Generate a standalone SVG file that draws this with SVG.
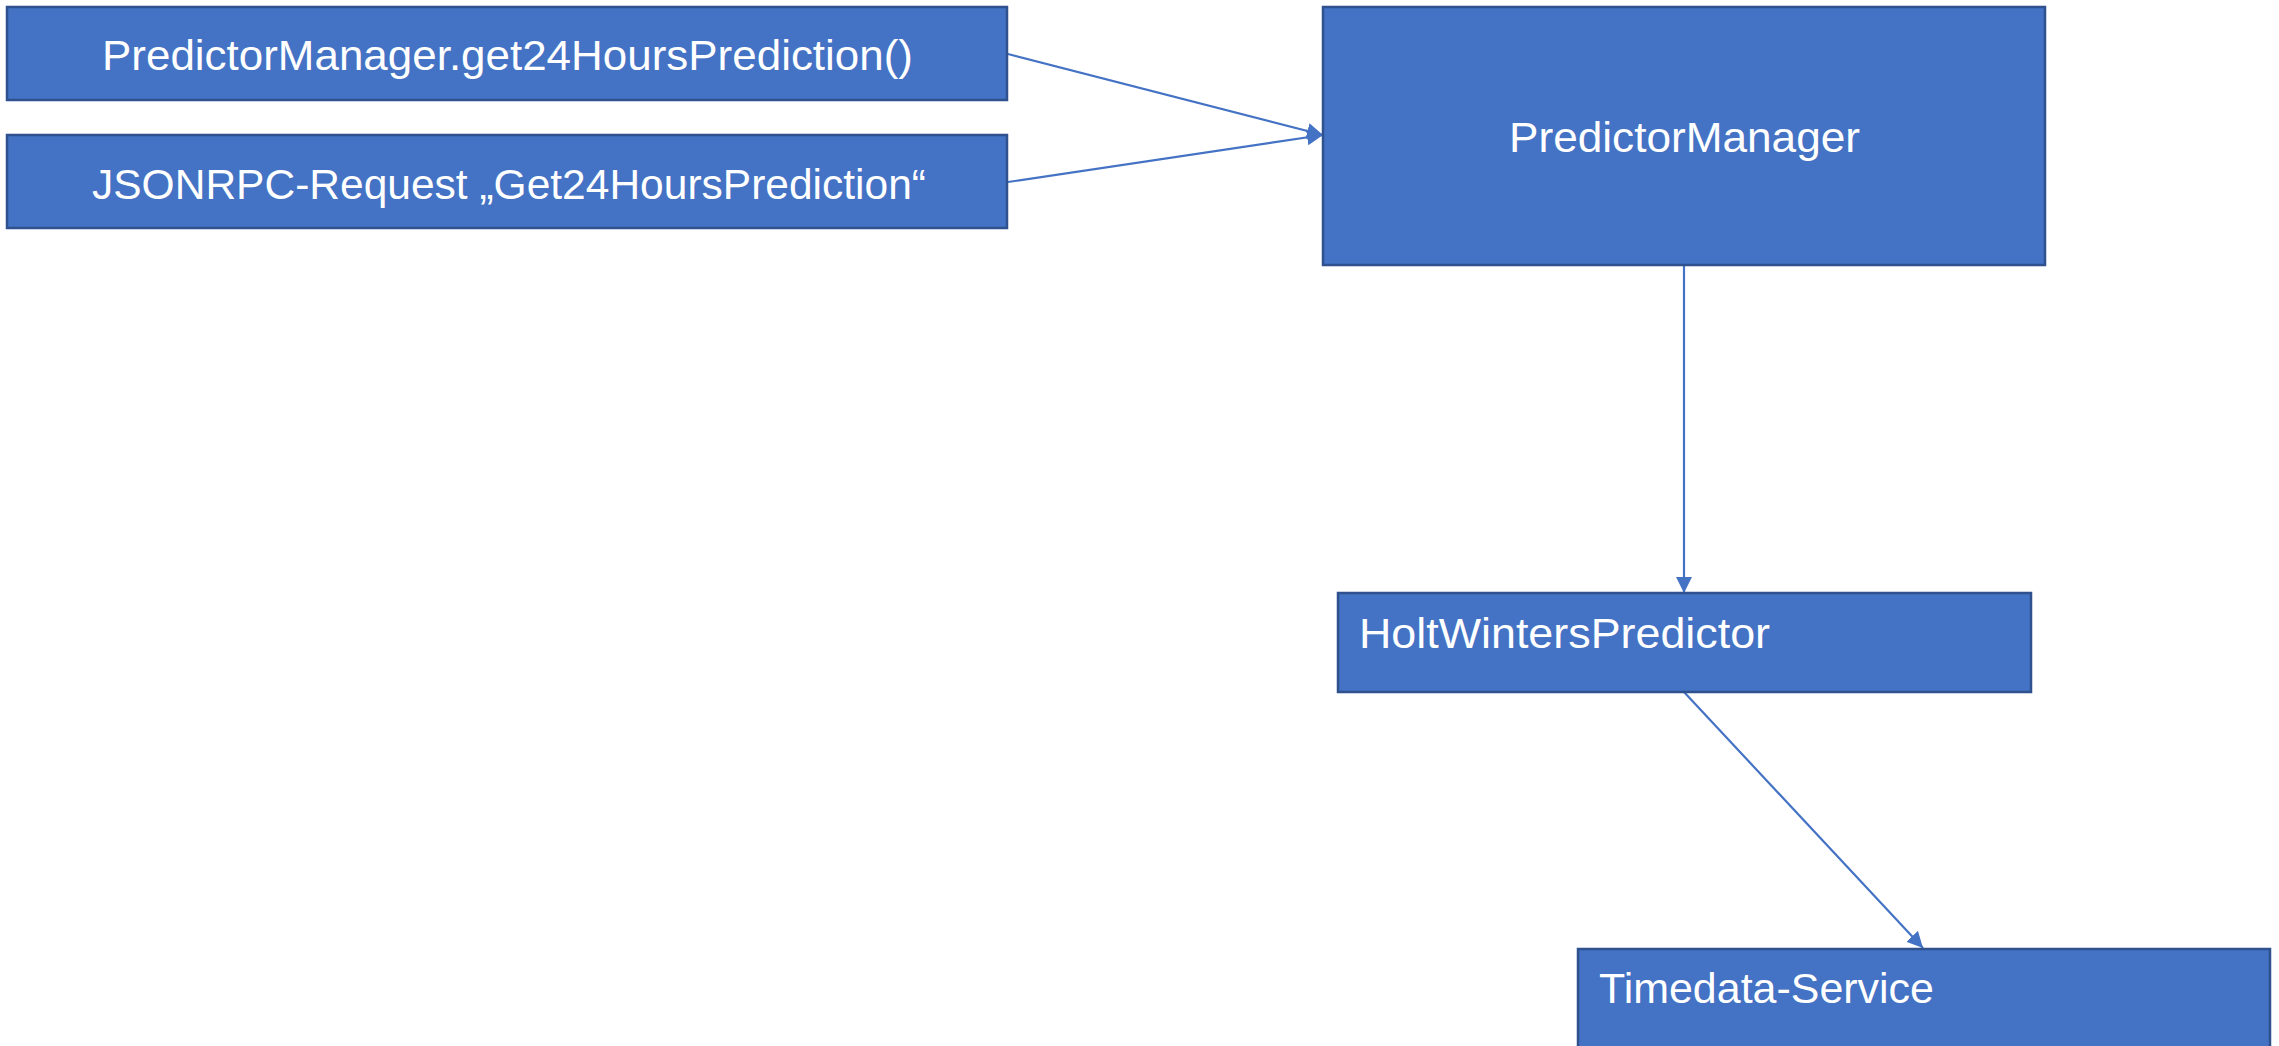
<svg xmlns="http://www.w3.org/2000/svg" width="2279" height="1046" viewBox="0 0 2279 1046">
<defs>
<style>
.box{fill:#4472C4;stroke:#2F528F;stroke-width:2.5}
.lbl{fill:#FFFFFF;font-family:"Liberation Sans",Arial,sans-serif;font-size:42px}
.conn{stroke:#4472C4;stroke-width:2.2;fill:none}
</style>
<marker id="ah" markerUnits="userSpaceOnUse" markerWidth="18" markerHeight="18" refX="16" refY="8" orient="auto">
<path d="M0,0 L16,8 L0,16 z" fill="#4472C4"/>
</marker>
</defs>
<rect width="2279" height="1046" fill="#FFFFFF"/>
<g id="connectors">
<line class="conn" x1="1008" y1="54" x2="1323" y2="135" marker-end="url(#ah)"/>
<line class="conn" x1="1008" y1="182" x2="1323" y2="135" marker-end="url(#ah)"/>
<line class="conn" x1="1684" y1="265" x2="1684" y2="593" marker-end="url(#ah)"/>
<line class="conn" x1="1684" y1="692" x2="1923" y2="948" marker-end="url(#ah)"/>
</g>
<g id="node-call">
<rect class="box" x="7" y="7" width="1000" height="93"/>
<text class="lbl" x="102" y="70" textLength="811" lengthAdjust="spacingAndGlyphs">PredictorManager.get24HoursPrediction()</text>
</g>
<g id="node-jsonrpc">
<rect class="box" x="7" y="135" width="1000" height="93"/>
<text class="lbl" x="92" y="199" textLength="834" lengthAdjust="spacingAndGlyphs">JSONRPC-Request „Get24HoursPrediction“</text>
</g>
<g id="node-manager">
<rect class="box" x="1323" y="7" width="722" height="258"/>
<text class="lbl" x="1509" y="152" textLength="351" lengthAdjust="spacingAndGlyphs">PredictorManager</text>
</g>
<g id="node-holtwinters">
<rect class="box" x="1338" y="593" width="693" height="99"/>
<text class="lbl" x="1359" y="648" textLength="411" lengthAdjust="spacingAndGlyphs">HoltWintersPredictor</text>
</g>
<g id="node-timedata">
<rect class="box" x="1578" y="949" width="692" height="110"/>
<text class="lbl" x="1599" y="1003" textLength="335" lengthAdjust="spacingAndGlyphs">Timedata-Service</text>
</g>
</svg>
